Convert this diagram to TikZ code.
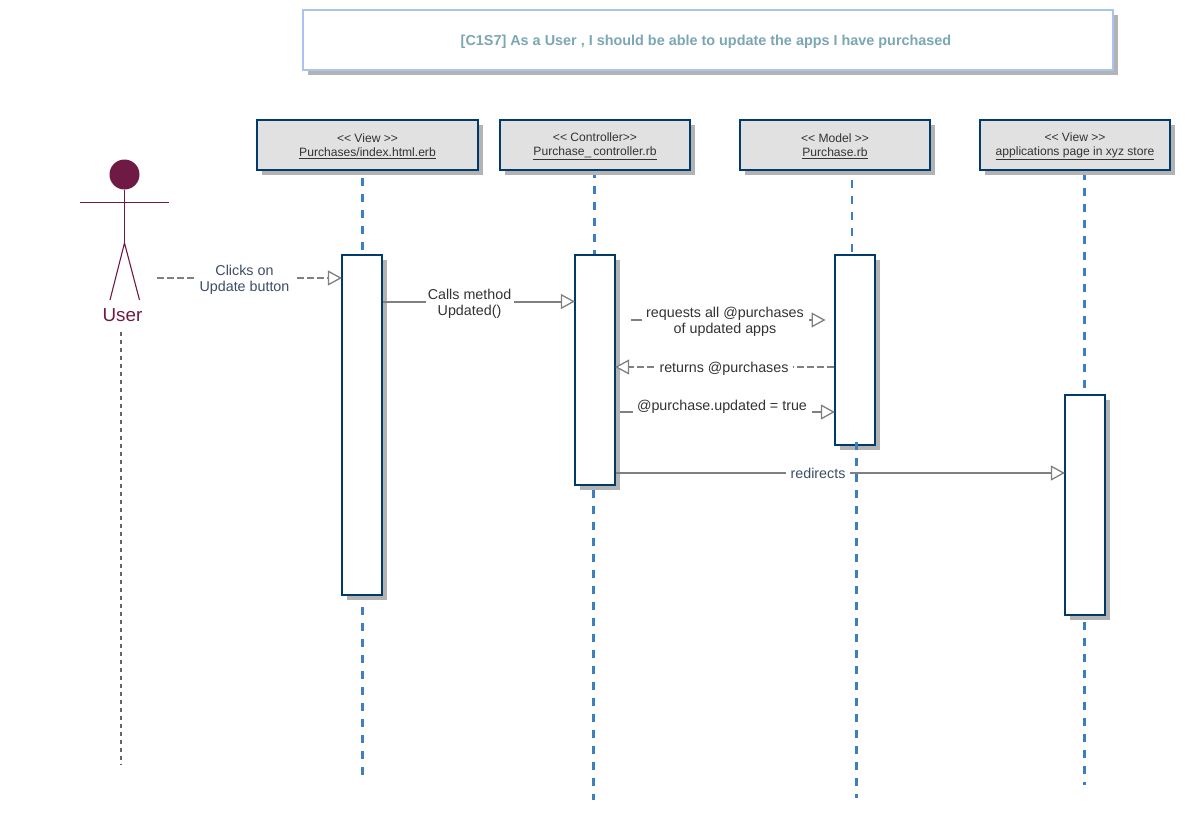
\documentclass[tikz,border=0pt]{standalone}
\usepackage{fontspec}
\setmainfont{Liberation Sans}
\usetikzlibrary{arrows.meta,shadows}
\definecolor{navy}{HTML}{003B6B}
\definecolor{headfill}{HTML}{E1E1E1}
\definecolor{shade}{HTML}{B3B3B3}
\definecolor{lifeblue}{HTML}{3F7FBF}
\definecolor{msgline}{HTML}{808080}
\definecolor{actorcol}{HTML}{6F1A45}
\definecolor{titleblue}{HTML}{A9C4F0}
\definecolor{titletext}{HTML}{7BA7B3}
\definecolor{slatetext}{HTML}{3D4D68}
\definecolor{darktext}{HTML}{333333}
\newcommand{\headstrut}{\rule{0pt}{11pt}}
\tikzset{
  x=1pt,y=-1pt,
  boxshadow/.style={drop shadow={shadow xshift=5pt,shadow yshift=-5pt,fill=shade,opacity=1}},
  headbox/.style={draw=navy,line width=2.2pt,fill=headfill,inner sep=0pt,minimum height=50pt,
    align=center,text=darktext,font=\fontsize{12.1}{14}\selectfont,boxshadow},
  activation/.style={draw=navy,line width=2.2pt,fill=white,inner sep=0pt,minimum width=40pt,boxshadow},
  lifeline/.style={draw=lifeblue,line width=2.2pt,dash pattern=on 8pt off 8pt},
  usertail/.style={draw=msgline!80!black,line width=1.3pt,dash pattern=on 4pt off 4pt},
  msg/.style={draw=msgline,line width=2pt,shorten >=-1pt,-{Triangle[open,fill=white,length=14pt,width=15pt,line width=1.3pt]}},
  msgdash/.style={msg,dash pattern=on 7pt off 3pt},
  msglabel/.style={fill=white,inner xsep=0pt,inner ysep=2pt,align=center,font=\fontsize{14.3}{16}\selectfont,text=darktext},
  actorline/.style={draw=actorcol,line width=1.1pt},
}
\begin{document}
\begin{tikzpicture}
\useasboundingbox (0,0) rectangle (1195,830);
% title
\node[draw=titleblue,line width=2.2pt,fill=white,inner sep=0pt,minimum width=810pt,minimum height=60pt,
  boxshadow,text=titletext,font=\fontsize{14.4}{16}\selectfont\bfseries] (title) at (708,40)
  {\raisebox{-5.6pt}[0pt][0pt]{\hspace*{-4pt}[C1S7] As a User , I should be able to update the apps I have purchased}};
% free ends and lifeline ends
\coordinate (userstart) at (157,278);
\coordinate (reqstart) at (631,320);
\coordinate (reqend) at (824.5,320);
\coordinate (updstart) at (620,412);
\coordinate (usertop) at (121,332);
\coordinate (userbot) at (121,765);
\coordinate (l1a) at (362.5,178);\coordinate (l1b) at (362.5,775);
\coordinate (l2a) at (594.5,170);\coordinate (l2b) at (593.5,800);
\coordinate (l3a) at (852,180);\coordinate (l3b) at (856.5,798);
\coordinate (l4a) at (1084.5,172);\coordinate (l4b) at (1084.5,785);
\path (362,425) coordinate (c1) (595,370) coordinate (c2) (855,350) coordinate (c3) (1085,505) coordinate (c4);
% lifelines
\draw[lifeline] (l1a) -- (362.5,255);
\draw[lifeline] (362.5,591) -- (l1b);
\draw[lifeline] (l2a) -- (594.5,255);
\draw[lifeline] (593.5,490) -- (l2b);
\draw[lifeline] (l3a) -- (852,255);
\draw[lifeline] (l4a) -- (1084.5,395);
\draw[lifeline] (1084.5,622) -- (l4b);
\draw[usertail] (usertop) -- (userbot);
% activations
\node[activation,minimum height=340pt] (a1) at (c1) {};
\node[activation,minimum height=230pt] (a2) at (c2) {};
\node[activation,minimum height=190pt] (a3) at (c3) {};
\node[activation,minimum height=220pt] (a4) at (c4) {};
% heads
\node[headbox,minimum width=221pt] (h1) at (367.5,145) {\headstrut<{}< View >{}>\\\underline{Purchases/index.html.erb}};
\node[headbox,minimum width=190pt] (h2) at (595,145) {\headstrut<{}< Controller>{}>\\\underline{Purchase\_\,controller.rb}};
\node[headbox,minimum width=190pt] (h3) at (835,145) {\headstrut<{}< Model >{}>\\\underline{Purchase.rb}};
\node[headbox,minimum width=190pt] (h4) at (1075,145) {\headstrut<{}< View >{}>\\\underline{applications page in xyz store}};
% actor
\node[circle,fill=actorcol,inner sep=0pt,minimum size=30pt] (head) at (124.5,174.5) {};
\coordinate (hip) at (124.5,243);
\coordinate (armL) at (80,202.5);\coordinate (armR) at (169,202.5);
\coordinate (footL) at (110,300);\coordinate (footR) at (139.5,300);
\draw[actorline] (head) -- (hip);
\draw[actorline] (armL) -- (armR);
\draw[actorline] (footL) -- (hip) -- (footR);
\node[inner sep=0pt,text=actorcol,font=\fontsize{18.8}{20}\selectfont] (user) at (122.5,315) {User};
% messages
\draw[msgdash] (userstart) -- (userstart -| a1.west);
\node[msglabel,text=slatetext,minimum width=102pt] (m1) at (244.5,279.5) {Clicks on\\Update button};
\draw[msg] (a1.east |- 0,301.5) -- (a2.west |- 0,301.5);
\node[msglabel,minimum width=88pt] (m2) at (469.5,303.5) {Calls method\\Updated()};
\draw[msg] (reqstart) -- (reqend);
\node[msglabel,minimum width=167pt] (m3) at (725,321.5) {requests all @purchases\\of updated apps};
\draw[msgdash] (a3.west |- 0,367) -- (a2.east |- 0,367);
\node[msglabel,minimum width=137pt] (m4) at (724,368.5) {returns @purchases};
\draw[msg] (updstart) -- (updstart -| a3.west);
\node[msglabel,minimum width=179pt] (m5) at (722,406.5) {@purchase.updated = true};
\draw[msg] (a2.east |- 0,473) -- (a4.west |- 0,473);
\node[msglabel,text=slatetext,minimum width=64pt] (m6) at (818,473.5) {redirects};
\draw[lifeline] (856.5,442) -- (l3b);
\end{tikzpicture}
\end{document}
